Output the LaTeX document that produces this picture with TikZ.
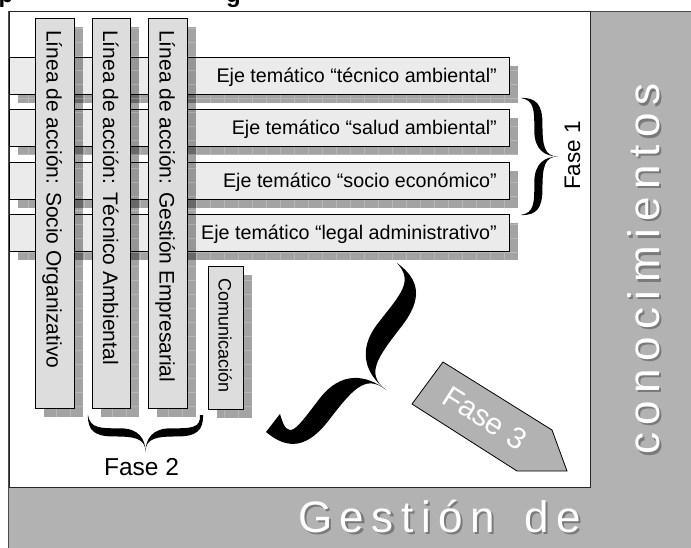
\documentclass[tikz,border=0pt]{standalone}
\usepackage{fontspec}
\setmainfont{Liberation Sans}
\newfontfamily\spacedfont[LetterSpace=17]{Liberation Sans}
\usetikzlibrary{calc}
\definecolor{framegray}{HTML}{B2B2B2}
\definecolor{hbarcol}{HTML}{EBEBEB}
\definecolor{vbarcol}{HTML}{DDDDDD}
\definecolor{txtshadow}{HTML}{7A7A7A}
\newcommand{\calbrace}[2]{%
\begin{scope}[cm={#1}]
\fill[black] (0,0) .. controls (0.42,-0.005) and ({0.47+#2/2},0.06) .. ({0.47+#2/2},0.22)
  .. controls ({0.47+#2/2},0.40) and (0.62,0.5) .. (1,0.5)
  .. controls (0.64,0.5) and ({0.47-#2/2},0.44) .. ({0.47-#2/2},0.28)
  .. controls ({0.47-#2/2},0.10) and (0.36,0.02) .. cycle;
\fill[black] (0,1) .. controls (0.42,1.005) and ({0.47+#2/2},0.94) .. ({0.47+#2/2},0.78)
  .. controls ({0.47+#2/2},0.60) and (0.62,0.5) .. (1,0.5)
  .. controls (0.64,0.5) and ({0.47-#2/2},0.56) .. ({0.47-#2/2},0.72)
  .. controls ({0.47-#2/2},0.90) and (0.36,0.98) .. cycle;
\end{scope}}
\newcommand{\shadowrect}[4]{%
\begin{scope}
\clip (#1,#2) rectangle (#3,#4);
\fill[black,opacity=0.36] (#1,#2) rectangle (#3,#4);
\draw[white,opacity=0.22,line width=0.6pt,step=14pt] (#1,#2) grid (#3,#4);
\end{scope}}
\begin{document}
\begin{tikzpicture}[x=1pt,y=-1pt,
  hbarbox/.style={fill=hbarcol,draw=black,line width=0.8pt},
  vbarbox/.style={fill=vbarcol,draw=black,line width=0.8pt},
  ejetext/.style={font=\fontsize{19.7}{22}\selectfont,anchor=base east,inner sep=0pt},
  lineatext/.style={font=\fontsize{21}{24}\selectfont,anchor=base west,inner sep=0pt,rotate=-90},
  fasetext/.style={inner sep=0pt},
  bigwhite/.style={font=\spacedfont\fontsize{44}{48}\selectfont,inner sep=0pt,text=white},
  bigshade/.style={font=\spacedfont\fontsize{44}{48}\selectfont,inner sep=0pt,text=txtshadow}]
\useasboundingbox (0,0) rectangle (691,548);
\clip (0,0) rectangle (691,548);
\fill[white] (0,0) rectangle (691,548);
% cut-off title
\node[font=\bfseries\fontsize{24}{26}\selectfont,anchor=base west,inner sep=0pt] (tp) at (-1.5,2.5) {p};
\node[font=\bfseries\fontsize{24}{26}\selectfont,anchor=base west,inner sep=0pt] (tg) at (226,2.5) {g};
% gray frame and white panel
\filldraw[fill=framegray,draw=black!70,line width=0.8pt] (8,11) rectangle (693,550);
\filldraw[fill=white,draw=black!85,line width=0.9pt] (9,11) rectangle (590,487);
% horizontal bars
\shadowrect{18}{66}{518}{103}
\shadowrect{18}{118}{518}{155}
\shadowrect{18}{171}{518}{208}
\shadowrect{18}{223}{518}{260}
\filldraw[hbarbox] (9,57) rectangle (509,94);
\filldraw[hbarbox] (9,109) rectangle (509,146);
\filldraw[hbarbox] (9,162) rectangle (509,199);
\filldraw[hbarbox] (9,214) rectangle (509,251);
\node[ejetext] (e1) at (497,82.3) {Eje temático “técnico ambiental”};
\node[ejetext] (e2) at (497,134.3) {Eje temático “salud ambiental”};
\node[ejetext] (e3) at (497,187.3) {Eje temático “socio económico”};
\node[ejetext] (e4) at (497,239.3) {Eje temático “legal administrativo”};
% vertical bars
\shadowrect{44}{27}{83}{417}
\shadowrect{101}{27}{139}{417}
\shadowrect{157}{27}{196}{417}
\shadowrect{217}{275}{252}{418}
\filldraw[vbarbox] (35,18) rectangle (74,408);
\filldraw[vbarbox] (92,18) rectangle (130,408);
\filldraw[vbarbox] (148,18) rectangle (187,408);
\filldraw[vbarbox] (208,266) rectangle (243,409);
\node[lineatext] (l1) at (46.5,30) {Línea de acción: Socio Organizativo};
\node[lineatext] (l2) at (103,30) {Línea de acción: Técnico Ambiental};
\node[lineatext] (l3) at (159.5,30) {Línea de acción: Gestión Empresarial};
\node[lineatext,font=\fontsize{18}{20}\selectfont] (com) at (218.5,278) {Comunicación};
% braces
\calbrace{37,0,0,117,(521,98)}{0.22}
\calbrace{0,-37,-115,0,(88,415)}{0.22}
\calbrace{54,-42,131,169,(397,263)}{0.30}
\node[fasetext,font=\fontsize{22.5}{24}\selectfont,anchor=base west,rotate=90] (f1) at (580,190) {Fase 1};
\node[fasetext,font=\fontsize{24.5}{26}\selectfont,anchor=base] (f2) at (141.5,475) {Fase 2};
% Fase 3 arrow
\filldraw[fill=framegray,draw=black,line width=0.8pt] (443,362) -- (552,430) -- (567,471) -- (517,471) -- (412,404) -- cycle;
\node[fasetext,font=\fontsize{30}{32}\selectfont,text=white,rotate=-32.5] (f3) at (485,418) {Fase 3};
% big letter-spaced labels
\node[bigshade,anchor=base west] (gs) at (300.5,534.5) {Gestión\hspace{10pt} de};
\node[bigwhite,anchor=base west] (g) at (298,532) {Gestión\hspace{10pt} de};
\node[bigshade,anchor=base west,rotate=90] (cs) at (661.5,457.5) {conocimientos};
\node[bigwhite,anchor=base west,rotate=90] (c) at (659,455) {conocimientos};
\end{tikzpicture}
\end{document}
